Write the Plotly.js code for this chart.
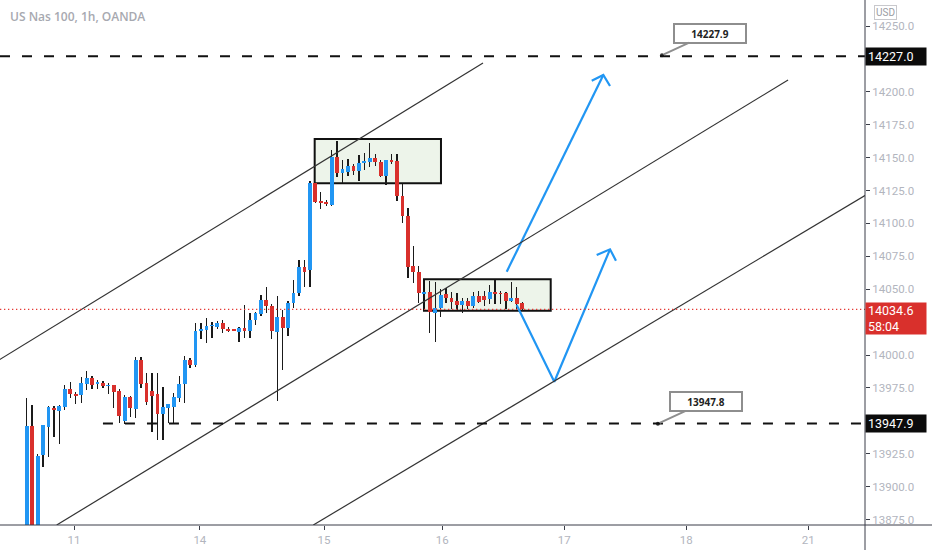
<!DOCTYPE html>
<html>
<head>
<meta charset="utf-8">
<script src="https://cdn.plot.ly/plotly-3.0.1.min.js"></script>
<style>
html,body{margin:0;padding:0;background:#fff;}
#chart{width:932px;height:550px;}
</style>
</head>
<body>
<div id="chart"></div>
<script>
// ---- Candle data (hourly bars, US Nas 100) ----
const opens  = [13830,13946,13840,13924,13945.5,13960,13957.5,13960.7,13974,13970.4,13969.6,13978.2,13982.5,13978,13978.5,13976.5,13977.2,13972.9,13950,13968,13959.2,13996.2,13978.5,13973,13970,13955,13960,13960.3,13967,13977.7,13996.2,13992.4,14018.5,14019,14022,14021.5,14024.6,14019.5,14019,14017.7,14020.8,14018.5,14026.6,14031,14041.8,14037.2,14017.7,14029,14020.8,14039.7,14047.4,14067,14064.6,14130.5,14117,14116.5,14114,14150.2,14138,14139.3,14143.8,14140,14145.6,14147,14149.5,14147,14136.3,14148.2,14147.6,14121,14105.6,14067.6,14063.3,14046.1,14048.1,14031.7,14035.5,14046.1,14043.1,14041.3,14038,14041.3,14037.5,14044.8,14044.8,14042.4,14048,14047.5,14046.9,14041.3,14043.1,14039.3];
const highs  = [13967,13962,13925,13947,13961,13961,13962,13977,13979.7,13972,13983,13987.8,13984,13981,13980.5,13978.5,13977.5,13974,13969.4,13969,13998.7,13998.7,13986.6,13986.6,13986,13976,13963,13970.9,13984,13999.3,13998,14024,14024,14028.3,14025,14026,14026.5,14021,14020,14021.5,14038,14031.7,14033,14045.6,14051.4,14038.5,14044.8,14034,14041,14057,14072,14072,14132,14131,14123.6,14118,14155.8,14162.8,14148.2,14149,14145.5,14152,14153.7,14161,14152.7,14148.5,14148.5,14152.7,14152.7,14130,14111.5,14082.8,14068,14049,14056.5,14055.8,14050,14050.7,14048,14047.5,14043.5,14043,14048,14048.5,14048.5,14053.2,14057,14048.5,14048,14055.2,14051.4,14040.5];
const lows   = [13820,13825,13830,13915,13922.7,13937.7,13932,13958,13967,13962.8,13963.8,13973.4,13974,13974,13975,13970,13960,13948.6,13947.6,13952.6,13951.8,13975,13962,13941.7,13935.4,13935.4,13948,13948,13964.5,13963.3,13990,13991,14012,14009.3,14013,14020,14017,14017.5,14018,14009.7,14012.8,14012.8,14023,14030,14031.7,14012,13965.3,13988.6,14014.4,14036,14045,14052,14052,14115.3,14110.7,14113,14113.2,14135.5,14130.5,14136.3,14137,14132.5,14140.6,14142.6,14143.6,14135,14129.2,14145,14117.2,14100,14058.2,14055,14039.3,14045,14016.5,14010.1,14029,14039.3,14034.7,14034,14032,14035,14036,14039.5,14037,14039,14039,14039,14034.7,14040,14034.6,14033.5];
const closes = [13946,13835,13923,13946.5,13960.3,13958,13961.2,13974,13970,13969,13978.5,13982.5,13977.5,13979.7,13976.5,13977.5,13972,13953.6,13968.3,13959.5,13996.2,13978,13964.5,13969,13955,13960.7,13962.5,13967.8,13978,13996.2,13992.4,14018.5,14019.6,14022,14022.8,14024.6,14019.5,14018.5,14018.5,14020.8,14018.5,14026.6,14031.7,14041.8,14037.2,14018.5,14029,14020.8,14039.7,14047.4,14067,14063.3,14131,14116.5,14115.8,14114.7,14150.2,14138.5,14141,14143.8,14140,14145.6,14147.6,14149.5,14147,14136.3,14148.2,14147,14121,14105.6,14067,14063.3,14046.9,14048.1,14033,14035.5,14045.6,14043.1,14040.5,14038,14041.3,14037.5,14044.8,14040.5,14041.8,14048,14046.1,14046.5,14041.3,14043.1,14038.5,14034.6];

// ---- Axis ticks ----
const dayTickIndex  = [8.7, 31.8, 54.6, 76.3, 98.7, 121.1, 143.5];
const dayTickLabels = ['11','14','15','16','17','18','21'];
const priceTicks = [13875,13900,13925,13975,14000,14050,14075,14100,14125,14150,14175,14200,14250];

// ---- Drawing objects (bar index, price) ----
const upperChannel  = [[-5, 13996.4],[83.79, 14221.9]];
const middleChannel = [[5.51, 13870.8],[139.8, 14209.0]];
const lowerChannel  = [[52.63, 13870.8],[154.5, 14122.6]];
const resistanceLevel = 14227.0;
const supportLevel = 13947.9;
const supportStartIndex = 14.0;
const lastPrice = 14034.6;
const countdown = '58:04';
const consolidationBox1 = [[52.88, 14164.1],[76.07, 14130.5]];
const consolidationBox2 = [[72.95, 14057.5],[96.22, 14033.7]];
const arrowUpX = [88.14, 105.88, null, 103.75, 105.88, 107.11];
const arrowUpY = [14063.3, 14212.8, null, 14208.4, 14212.8, 14204.4];
const arrowVX  = [89.97, 96.88, 107.11, null, 104.66, 107.11, 108.2];
const arrowVY  = [14038.0, 13979.7, 14080.3, null, 14076.0, 14080.3, 14071.7];
const calloutIndex = [116.65, 115.9];
const calloutPrice = [14227.9, 13947.8];

const BLUE = '#2196f3', RED = '#d9302c';
const idx = opens.map((_, i) => i);
const bodyBase = opens.map((o, i) => Math.min(o, closes[i]));
const bodyH = opens.map((o, i) => Math.max(Math.abs(closes[i] - o), 0.9));
const bodyCol = opens.map((o, i) => closes[i] >= o ? BLUE : RED);

const traces = [
  {type:'bar', x: idx, base: lows, y: highs.map((h,i)=>h-lows[i]), width: 0.24,
   marker:{color:'#1a1a1a', line:{width:0}}, hoverinfo:'skip', showlegend:false},
  {type:'bar', x: idx, base: bodyBase, y: bodyH, width: 0.7,
   marker:{color: bodyCol, line:{width:0}}, hoverinfo:'skip', showlegend:false},
  {type:'scatter', mode:'lines', x: arrowUpX, y: arrowUpY, line:{color:BLUE, width:2.2},
   hoverinfo:'skip', showlegend:false, connectgaps:false},
  {type:'scatter', mode:'lines', x: arrowVX, y: arrowVY, line:{color:BLUE, width:2.2},
   hoverinfo:'skip', showlegend:false, connectgaps:false},
  {type:'scatter', mode:'markers', x: calloutIndex, y: calloutPrice,
   marker:{color:'#333', size:4}, hoverinfo:'skip', showlegend:false, cliponaxis:false}
];

function seg(p, color, width, dash, layer){
  return {type:'line', xref:'x', yref:'y', x0:p[0][0], y0:p[0][1], x1:p[1][0], y1:p[1][1],
    line:{color:color, width:width, dash:dash||'solid'}, layer: layer||'above'};
}
function box(b){
  return {type:'rect', xref:'x', yref:'y', x0:b[0][0], y0:b[0][1], x1:b[1][0], y1:b[1][1],
    fillcolor:'#edf4ea', line:{color:'#111', width:2}, layer:'below'};
}

const shapes = [
  box(consolidationBox1), box(consolidationBox2),
  seg(upperChannel, '#333', 1.2), seg(middleChannel, '#333', 1.2), seg(lowerChannel, '#333', 1.2),
  {type:'line', xref:'paper', yref:'y', x0:0, x1:1, y0:resistanceLevel, y1:resistanceLevel,
   line:{color:'#111', width:2, dash:'10px,12px'}},
  {type:'line', xref:'x', yref:'y', x0:supportStartIndex, x1:153.93, y0:supportLevel, y1:supportLevel,
   line:{color:'#111', width:2, dash:'10px,12px'}},
  {type:'line', xref:'paper', yref:'y', x0:0, x1:1, y0:lastPrice, y1:lastPrice,
   line:{color:'#e53935', width:1.3, dash:'1.3px,2.7px'}},
  // axis frame lines extending to window edges
  {type:'line', xref:'paper', yref:'paper', x0:0, x1:1.08, y0:0, y1:0, line:{color:'#3a3d48', width:1}},
  {type:'line', xref:'paper', yref:'paper', x0:1, x1:1, y0:-0.05, y1:1, line:{color:'#3a3d48', width:1}}
];

function axisLabel(price, text, bg, lines){
  return {xref:'paper', yref:'y', x:1, y:price, xanchor:'left', yanchor: lines>1?'top':'middle',
    yshift: lines>1?7:0, text:text, showarrow:false, align:'left',
    bgcolor:bg, borderpad:2, width:56, height: lines>1?27:13,
    font:{family:'Roboto, Arial, sans-serif', size:12.5, color:'#fff'}};
}

const annotations = [
  axisLabel(resistanceLevel, resistanceLevel.toFixed(1), '#0b0b0b', 1),
  axisLabel(supportLevel, supportLevel.toFixed(1), '#0b0b0b', 1),
  axisLabel(lastPrice, lastPrice.toFixed(1) + '<br>' + countdown, '#d9302c', 2),
  {xref:'paper', yref:'paper', x:1, y:1, xshift:9, yshift:-5, xanchor:'left', yanchor:'top',
   text:'USD', showarrow:false, bordercolor:'#c8c8cc', borderwidth:1, borderpad:1, bgcolor:'#fff',
   font:{family:'Roboto, Arial, sans-serif', size:10, color:'#9a9ca3'}},
  {xref:'paper', yref:'paper', x:0, y:1, xshift:8, yshift:-6, xanchor:'left', yanchor:'top',
   text:'US Nas 100, 1h, OANDA', showarrow:false,
   font:{family:'Open Sans, sans-serif', size:12, color:'#a7a9b0', weight:600}},
];
calloutPrice.forEach((p, i) => {
  annotations.push({xref:'x', yref:'y', x:calloutIndex[i], y:p, ax: 48, ay: -22,
    text:'<b>' + p.toFixed(1) + '</b>', showarrow:true, arrowhead:0, arrowwidth:2, arrowcolor:'#8e8e8e',
    standoff:2, bgcolor:'#fff', bordercolor:'#8e8e8e', borderwidth:2, borderpad:2, width:66, height:13,
    font:{family:'Open Sans, Arial, sans-serif', size:10, color:'#222'}});
});

const layout = {
  width:932, height:550,
  margin:{l:0, r:67, t:0, b:25},
  paper_bgcolor:'#fff', plot_bgcolor:'#fff',
  barmode:'overlay', bargap:0,
  showlegend:false,
  xaxis:{range:[-4.903, 153.93], tickmode:'array', tickvals: dayTickIndex, ticktext: dayTickLabels,
    showgrid:false, zeroline:false, showline:false, ticks:'outside', ticklen:4, tickcolor:'#3a3d48',
    tickfont:{family:'Roboto, Arial, sans-serif', size:11.5, color:'#b2b5be'}, fixedrange:true, automargin:false},
  yaxis:{side:'right', range:[13870.8, 14269.8], tickmode:'array', tickvals: priceTicks,
    ticktext: priceTicks.map(v => v.toFixed(1)),
    showgrid:false, zeroline:false, showline:false, ticks:'outside', ticklen:4, tickcolor:'#3a3d48',
    tickfont:{family:'Roboto, Arial, sans-serif', size:11.5, color:'#b2b5be'}, automargin:false},
  shapes: shapes,
  annotations: annotations
};

Plotly.newPlot('chart', traces, layout, {displayModeBar:false, staticPlot:true});
</script>
</body>
</html>
